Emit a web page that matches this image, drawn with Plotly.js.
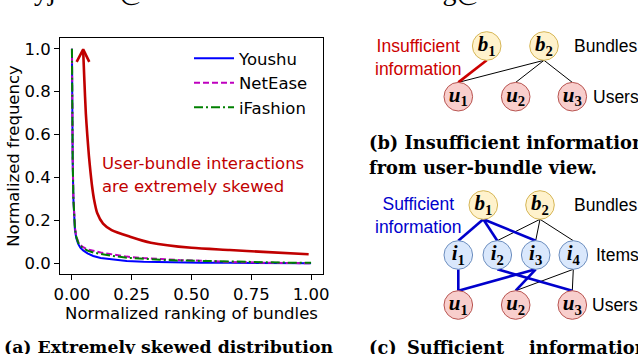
<!DOCTYPE html>
<html><head><meta charset="utf-8">
<script src="https://cdn.plot.ly/plotly-3.0.1.min.js"></script>
<style>html,body{margin:0;padding:0;background:#fff;}#chart{width:638px;height:354px;}</style>
</head><body><div id="chart"></div>
<script>
// ---------- Panel (a): normalized frequency vs normalized ranking ----------
const rankX    = [0, 0.001, 0.003, 0.006, 0.009, 0.0126, 0.018, 0.026, 0.035, 0.047, 0.065, 0.089, 0.12, 0.159, 0.229, 0.3, 0.369, 0.45, 0.54, 0.66, 0.8, 0.9, 1.0];
const youshu   = [1.0, 0.75, 0.48, 0.30, 0.21, 0.155, 0.118, 0.090, 0.073, 0.060, 0.046, 0.034, 0.025, 0.019, 0.011, 0.007, 0.005, 0.004, 0.003, 0.002, 0.001, 0.001, 0.0];
const netease  = [1.0, 0.76, 0.50, 0.31, 0.22, 0.165, 0.128, 0.100, 0.085, 0.075, 0.065, 0.057, 0.050, 0.043, 0.031, 0.024, 0.019, 0.015, 0.012, 0.006, 0.003, 0.001, 0.0];
const ifashion = [1.0, 0.75, 0.49, 0.30, 0.215, 0.160, 0.124, 0.096, 0.080, 0.070, 0.059, 0.050, 0.043, 0.036, 0.026, 0.020, 0.016, 0.013, 0.011, 0.006, 0.004, 0.003, 0.003];
const seriesNames = ['Youshu', 'NetEase', 'iFashion'];
const xTicks = [0, 0.25, 0.5, 0.75, 1.0];
const yTicks = [0, 0.2, 0.4, 0.6, 0.8, 1.0];

// hand-drawn red arrow ("skewed" annotation) in data units
const skewX = [0.047, 0.052, 0.058, 0.064, 0.071, 0.078, 0.084, 0.092, 0.106, 0.13, 0.166, 0.243, 0.33, 0.5, 0.66, 0.8, 0.99];
const skewY = [0.99, 0.85, 0.70, 0.60, 0.50, 0.42, 0.36, 0.30, 0.233, 0.185, 0.155, 0.124, 0.096, 0.072, 0.062, 0.053, 0.042];
const headX = [0.0196, 0.047, 0.0725];
const headY = [0.939, 0.997, 0.939];
const skewText = ['User-bundle interactions', 'are extremely skewed'];
const skewTextX = 0.117;
const skewTextY = [0.467, 0.360];

// ---------- Panels (b) and (c): bipartite graphs (diagram units) ----------
const bNodesB = {lab: ['b', 'b'], idx: [1, 2], x: [486.7, 544], y: [46, 46]};
const uNodesB = {lab: ['u', 'u', 'u'], idx: [1, 2, 3], x: [458.3, 515.7, 572.3], y: [96.7, 96.7, 96.7]};
const edgesB_hi = [[0, 0]];                 // b1-u1
const edgesB_lo = [[1, 0], [1, 1], [1, 2]]; // b2-u1, b2-u2, b2-u3

const bNodesC = {lab: ['b', 'b'], idx: [1, 2], x: [483.3, 540], y: [205, 205]};
const iNodesC = {lab: ['i', 'i', 'i', 'i'], idx: [1, 2, 3, 4], x: [458.3, 497.3, 535.7, 573.3], y: [255, 255, 255, 255]};
const uNodesC = {lab: ['u', 'u', 'u'], idx: [1, 2, 3], x: [458.3, 515.7, 572.3], y: [305, 305, 305]};
const edgesC_bi_hi = [[0, 0], [0, 1], [0, 2]];
const edgesC_bi_lo = [[1, 1], [1, 2], [1, 3]];
const edgesC_iu_hi = [[0, 0], [2, 0], [2, 1], [1, 2]]; // [item, user]
const edgesC_iu_lo = [[3, 1], [3, 2]];

// ---------- build ----------
const W = 638, H = 354;
const px = v => v / W, py = v => 1 - v / H;
const R = 14.3;
const traces = [];

const styles = [
  {color: '#0000ff', dash: 'solid'},
  {color: '#bf00bf', dash: '6px,3px'},
  {color: '#008000', dash: '9px,3px,2px,3px'}
];
[youshu, netease, ifashion].forEach((ys, i) => traces.push({
  x: rankX, y: ys, type: 'scatter', mode: 'lines', name: seriesNames[i],
  line: {color: styles[i].color, width: 2, dash: styles[i].dash},
  xaxis: 'x', yaxis: 'y', hoverinfo: 'skip'
}));
traces.push({x: skewX, y: skewY, type: 'scatter', mode: 'lines', showlegend: false,
  line: {color: '#c00000', width: 2.6, shape: 'spline', smoothing: 0.7}, xaxis: 'x', yaxis: 'y', hoverinfo: 'skip'});
traces.push({x: headX, y: headY, type: 'scatter', mode: 'lines', showlegend: false,
  line: {color: '#c00000', width: 2.6}, xaxis: 'x', yaxis: 'y', hoverinfo: 'skip'});

function edgeTrace(up, down, pairs, color, width) {
  const ex = [], ey = [];
  pairs.forEach(([a, b]) => {
    ex.push(up.x[a], down.x[b], null);
    ey.push(up.y[a] + R, down.y[b] - R, null);
  });
  return {x: ex, y: ey, type: 'scatter', mode: 'lines', showlegend: false,
    line: {color: color, width: width}, xaxis: 'x2', yaxis: 'y2', hoverinfo: 'skip', cliponaxis: false};
}
function nodeTrace(n, fill, stroke) {
  return {x: n.x, y: n.y, type: 'scatter', mode: 'markers+text', showlegend: false,
    text: n.lab.map((l, k) => '<b><i>' + l + '</i><sub>' + n.idx[k] + '</sub></b>'),
    textposition: 'middle center',
    textfont: {family: 'Liberation Serif', size: 21, color: '#000'},
    marker: {size: 28.6, color: fill, line: {color: stroke, width: 1}},
    xaxis: 'x2', yaxis: 'y2', hoverinfo: 'skip', cliponaxis: false};
}
const HI_B = '#cc0000', HI_C = '#0000cc', LO = '#000000';
traces.push(edgeTrace(bNodesB, uNodesB, edgesB_lo, LO, 1));
traces.push(edgeTrace(bNodesB, uNodesB, edgesB_hi, HI_B, 2.6));
traces.push(edgeTrace(bNodesC, iNodesC, edgesC_bi_lo, LO, 1));
traces.push(edgeTrace(iNodesC, uNodesC, edgesC_iu_lo, LO, 1));
traces.push(edgeTrace(bNodesC, iNodesC, edgesC_bi_hi, HI_C, 2.6));
traces.push(edgeTrace(iNodesC, uNodesC, edgesC_iu_hi, HI_C, 2.6));
const YEL = ['#fff2cc', '#d6b656'], RED = ['#f8cecc', '#b85450'], BLU = ['#dae8fc', '#6c8ebf'];
traces.push(nodeTrace(bNodesB, YEL[0], YEL[1]));
traces.push(nodeTrace(uNodesB, RED[0], RED[1]));
traces.push(nodeTrace(bNodesC, YEL[0], YEL[1]));
traces.push(nodeTrace(iNodesC, BLU[0], BLU[1]));
traces.push(nodeTrace(uNodesC, RED[0], RED[1]));

const SANS = 'DejaVu Sans';
const DIA = 'Liberation Sans';
const SERIF = 'DejaVu Serif';
const annotations = [];
skewText.forEach((t, i) => annotations.push({xref: 'x', yref: 'y', x: skewTextX, y: skewTextY[i], text: t,
  showarrow: false, xanchor: 'left', yanchor: 'middle', font: {family: SANS, size: 16.5, color: '#c00000'}}));
// diagram labels
function dlab(x, y, t, color, xanchor) {
  annotations.push({xref: 'x2', yref: 'y2', x: x, y: y, text: t, showarrow: false, xanchor: xanchor || 'left',
    yanchor: 'middle', align: 'center', font: {family: DIA, size: 17.5, color: color || '#000'}});
}
dlab(572.3, 46, 'Bundles'); dlab(590.7, 96.7, 'Users');
dlab(418.8, 57, 'Insufficient<br>information', '#cc0000', 'center');
dlab(572.3, 205, 'Bundles'); dlab(594, 255, 'Items'); dlab(590, 305, 'Users');
dlab(418.5, 215.5, 'Sufficient<br>information', '#0000cc', 'center');
// captions and page text
function cap(x, y, t, size, bold, anchorY, fam) {
  annotations.push({xref: 'paper', yref: 'paper', x: px(x), y: py(y), text: bold ? '<b>' + t + '</b>' : t,
    showarrow: false, xanchor: 'left', yanchor: anchorY || 'middle', font: {family: fam || SERIF, size: size, color: '#000'}});
}
cap(2, 347, '(a) Extremely skewed distribution', 17.3, true);
cap(366.7, 142, '(b) Insufficient information', 17.8, true);
cap(366.7, 167.5, 'from user-bundle view.', 17.8, true);
cap(366.7, 347, '(c)', 17.8, true);
cap(405, 347, 'Sufficient', 17.8, true);
cap(526.7, 347, 'information', 17.8, true);
cap(31.7, 8, 'yjl0028@snu.ac.kr', 28, false, 'bottom', 'Liberation Serif');
cap(386, 8, 'dkang@snu.ac.kr', 28, false, 'bottom', 'Liberation Serif');

const layout = {
  width: W, height: H, margin: {l: 0, r: 0, t: 0, b: 0}, paper_bgcolor: '#fff', plot_bgcolor: '#fff',
  font: {family: SANS, size: 16.5, color: '#000'}, showlegend: true,
  xaxis: {domain: [px(60), px(323)], range: [-0.05, 1.05], tickvals: xTicks, ticktext: xTicks.map(v => v.toFixed(2)),
    ticks: 'outside', ticklen: 5, tickwidth: 1, tickcolor: '#000', showline: true, mirror: true, linecolor: '#000', linewidth: 1,
    showgrid: false, zeroline: false, tickfont: {family: SANS, size: 16.5}, anchor: 'y',
    title: {text: 'Normalized ranking of bundles', font: {family: SANS, size: 16.5}, standoff: 2}},
  yaxis: {domain: [py(274), py(38)], range: [-0.05, 1.05], tickvals: yTicks, ticktext: yTicks.map(v => v.toFixed(1)),
    ticks: 'outside', ticklen: 5, tickwidth: 1, tickcolor: '#000', showline: true, mirror: true, linecolor: '#000', linewidth: 1,
    showgrid: false, zeroline: false, tickfont: {family: SANS, size: 16.5}, anchor: 'x',
    title: {text: 'Normalized frequency', font: {family: SANS, size: 16.5}, standoff: 0}},
  xaxis2: {domain: [px(340), 1], range: [340, 638], visible: false, anchor: 'y2', fixedrange: true},
  yaxis2: {domain: [0, 1], range: [354, 0], visible: false, anchor: 'x2', fixedrange: true},
  legend: {x: px(189), y: py(41), xanchor: 'left', yanchor: 'top', bgcolor: 'rgba(0,0,0,0)', borderwidth: 0,
    itemwidth: 40, font: {family: SANS, size: 16.5}, tracegroupgap: 0},
  annotations: annotations
};
Plotly.newPlot('chart', traces, layout, {displayModeBar: false, staticPlot: true});
</script></body></html>
